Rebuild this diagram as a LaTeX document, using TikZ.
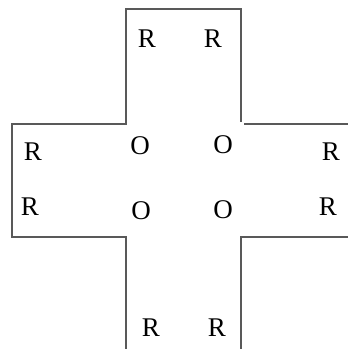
\documentclass[tikz,border=0pt]{standalone}
\usepackage{fontspec}
\setmainfont{Liberation Serif}
\begin{document}
\begin{tikzpicture}[x=1pt,y=-1pt,
  outline/.style={draw=black!65,line width=1.6pt},
  letter/.style={inner sep=0pt,font=\fontsize{27}{32}\selectfont,text=black}]
\useasboundingbox (0,0) rectangle (348,349);
% cross outline
\draw[outline] (126,349) -- (126,237) -- (11.7,237) -- (11.7,124) -- (126,124)
  -- (126,9) -- (240.7,9) -- (240.7,122);
\draw[outline] (244,124) -- (348,124);
\draw[outline] (348,237) -- (240.7,237) -- (240.7,349);
% letters
\node[letter] (rt1) at (147,39) {R};
\node[letter] (rt2) at (213,39) {R};
\node[letter] (rl1) at (33,152) {R};
\node[letter] (rl2) at (30,207) {R};
\node[letter] (o1) at (140,146) {O};
\node[letter] (o2) at (223,145) {O};
\node[letter] (o3) at (141,211) {O};
\node[letter] (o4) at (223,210) {O};
\node[letter] (rr1) at (331,152) {R};
\node[letter] (rr2) at (328,207) {R};
\node[letter] (rb1) at (151,328) {R};
\node[letter] (rb2) at (217,328) {R};
\end{tikzpicture}
\end{document}
